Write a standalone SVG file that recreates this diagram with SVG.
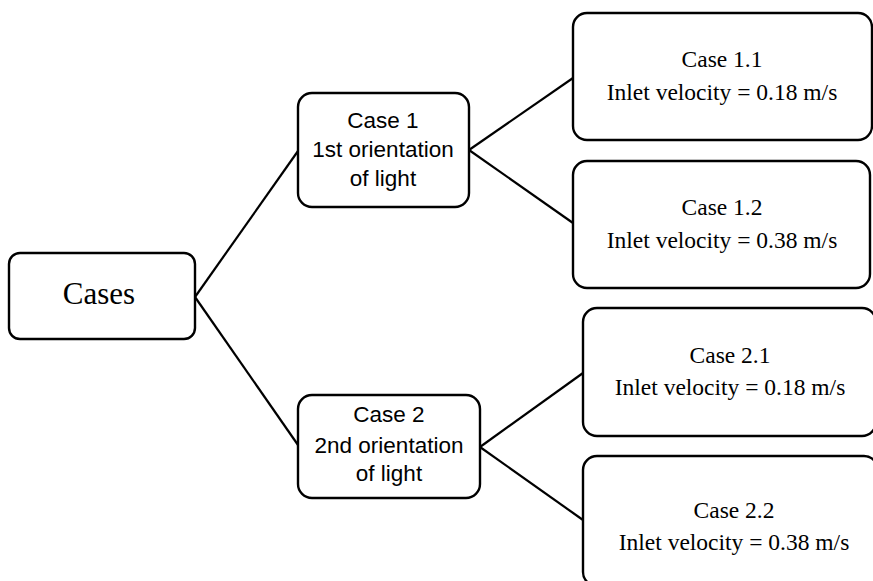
<svg xmlns="http://www.w3.org/2000/svg" width="873" height="581" viewBox="0 0 873 581">
  <style>
    .box { fill: #ffffff; stroke: #000000; stroke-width: 2.4; }
    .link { fill: none; stroke: #000000; stroke-width: 2.2; }
    .serif { font-family: "Liberation Serif", "Times New Roman", serif; fill: #000000; text-anchor: middle; }
    .sans { font-family: "Liberation Sans", Arial, sans-serif; fill: #000000; text-anchor: middle; font-size: 22.5px; }
    .leaf { font-size: 23.5px; }
  </style>
  <rect width="873" height="581" fill="#ffffff"/>

  <!-- connectors -->
  <g id="connectors">
    <line class="link" x1="195" y1="297" x2="298" y2="151"/>
    <line class="link" x1="195" y1="297" x2="298" y2="445"/>
    <line class="link" x1="469" y1="150" x2="573" y2="78"/>
    <line class="link" x1="469" y1="150" x2="573" y2="223"/>
    <line class="link" x1="480" y1="447" x2="583" y2="373"/>
    <line class="link" x1="480" y1="447" x2="583" y2="520"/>
  </g>

  <!-- root -->
  <g id="cases">
    <rect class="box" x="9" y="253" width="186" height="86" rx="11"/>
    <text class="serif" x="99" y="304" font-size="31">Cases</text>
  </g>

  <!-- orientation level -->
  <g id="case1">
    <rect class="box" x="298" y="93" width="171" height="114" rx="14"/>
    <text class="sans" x="383" y="128">Case 1</text>
    <text class="sans" x="383" y="157">1st orientation</text>
    <text class="sans" x="383" y="186">of light</text>
  </g>
  <g id="case2">
    <rect class="box" x="298" y="395" width="182" height="103" rx="14"/>
    <text class="sans" x="389" y="422">Case 2</text>
    <text class="sans" x="389" y="453">2nd orientation</text>
    <text class="sans" x="389" y="481">of light</text>
  </g>

  <!-- velocity level -->
  <g id="case11">
    <rect class="box" x="573" y="13" width="299" height="127" rx="14"/>
    <text class="serif leaf" x="722" y="67">Case 1.1</text>
    <text class="serif leaf" x="722" y="100">Inlet velocity = 0.18 m/s</text>
  </g>
  <g id="case12">
    <rect class="box" x="573" y="161" width="297" height="127" rx="14"/>
    <text class="serif leaf" x="722" y="215">Case 1.2</text>
    <text class="serif leaf" x="722" y="248">Inlet velocity = 0.38 m/s</text>
  </g>
  <g id="case21">
    <rect class="box" x="583" y="308" width="293" height="128" rx="14"/>
    <text class="serif leaf" x="730" y="363">Case 2.1</text>
    <text class="serif leaf" x="730" y="395">Inlet velocity = 0.18 m/s</text>
  </g>
  <g id="case22">
    <rect class="box" x="583" y="456" width="295" height="130" rx="14"/>
    <text class="serif leaf" x="734" y="518">Case 2.2</text>
    <text class="serif leaf" x="734" y="550">Inlet velocity = 0.38 m/s</text>
  </g>
</svg>
